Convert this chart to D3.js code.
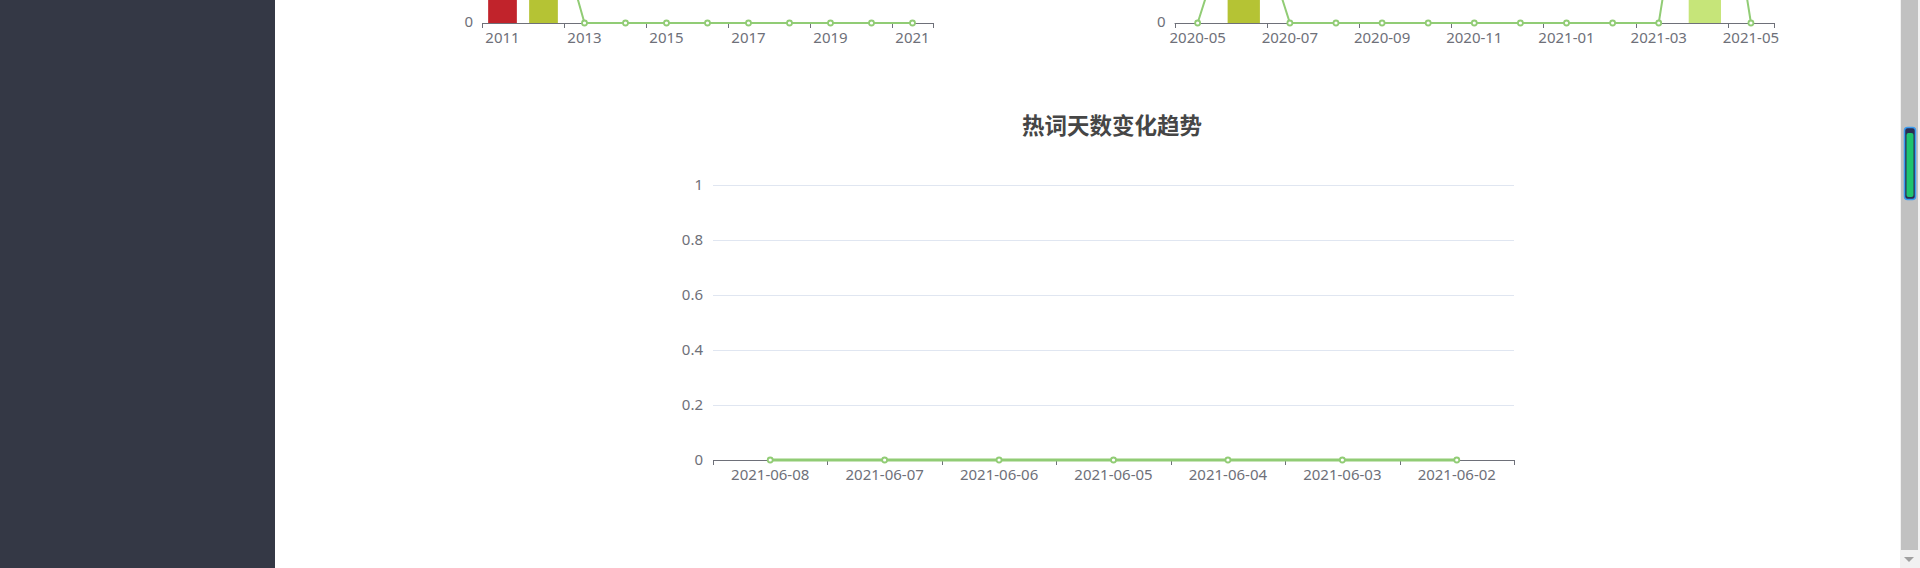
<!DOCTYPE html>
<html><head><meta charset="utf-8">
<script src="https://cdn.jsdelivr.net/npm/d3@7"></script>
<style>
html,body{margin:0;padding:0;overflow:hidden;background:#fff;width:1920px;height:568px}
svg{display:block}
text{font-family:"Noto Sans","Open Sans",sans-serif}
</style>
</head><body>
<svg id="c" width="1920" height="568"></svg>
<script>
// ---------- data ----------
const yearCategories = ['2011','2012','2013','2014','2015','2016','2017','2018','2019','2020','2021'];
const yearValues     = [1, 1, 0, 0, 0, 0, 0, 0, 0, 0, 0];
const monthCategories = ['2020-05','2020-06','2020-07','2020-08','2020-09','2020-10','2020-11','2020-12','2021-01','2021-02','2021-03','2021-04','2021-05'];
const monthValues     = [0, 1, 0, 0, 0, 0, 0, 0, 0, 0, 0, 2, 0];
const dayCategories = ['2021-06-08','2021-06-07','2021-06-06','2021-06-05','2021-06-04','2021-06-03','2021-06-02'];
const dayValues     = [0, 0, 0, 0, 0, 0, 0];
const dayTicks = [0, 0.2, 0.4, 0.6, 0.8, 1];
const mainTitle = '热词天数变化趋势';
const barPalette = ['#C1232B','#B5C334','#FCCE10','#E87C25','#27727B','#FE8463','#9BCA63','#FAD860','#F3A43B','#60C0DD','#D7504B','#C6E579','#F4E001'];
const lineColor = '#91cc75';
const axisColor = '#6E7079';
const gridColor = '#E0E6F1';
const labelSize = '15px';

const svg = d3.select('#c');

// page chrome: sidebar
svg.append('rect').attr('x',0).attr('y',0).attr('width',275).attr('height',568).attr('fill','#343845');

function barLineChart(cats, vals, x0, x1, zeroY, pxPerUnit, maxV) {
  const g = svg.append('g');
  const x = d3.scaleBand().domain(cats).range([x0, x1]).paddingInner(0).paddingOuter(0);
  const y = d3.scaleLinear().domain([0, maxV]).range([zeroY, zeroY - pxPerUnit*maxV]);
  const bw = x.bandwidth();
  g.selectAll('rect.bar').data(cats.map((c,i)=>({c, v:vals[i], i}))).join('rect')
    .attr('x', d => x(d.c) + bw*0.15).attr('width', bw*0.7)
    .attr('y', d => y(d.v)).attr('height', d => y(0) - y(d.v))
    .attr('fill', d => barPalette[d.i % barPalette.length]);
  const ax = g.append('g').attr('transform', `translate(0,${zeroY})`)
    .call(d3.axisBottom(x).tickValues(cats.filter((c,i)=>i%2===0)).tickSize(0).tickPadding(9));
  ax.select('.domain').attr('stroke', axisColor).attr('d', `M${x0},0.5H${x1}`);
  ax.selectAll('text').attr('fill', axisColor).style('font-size', labelSize);
  const tickPos = cats.filter((c,i)=>i%2===0).map(c => x(c)).concat([x1]);
  g.selectAll('line.tk').data(tickPos).join('line')
    .attr('x1', d=>Math.round(d)+0.5).attr('x2', d=>Math.round(d)+0.5)
    .attr('y1', zeroY).attr('y2', zeroY+5).attr('stroke', axisColor);
  g.append('text').attr('x', x0-9).attr('y', zeroY-1).attr('dy','0.35em').attr('text-anchor','end')
    .attr('fill', axisColor).style('font-size', labelSize).text(y.ticks(1)[0]);
  const line = d3.line().x((d,i)=>x(cats[i])+bw/2).y(d=>y(d));
  g.append('path').datum(vals).attr('d', line).attr('fill','none').attr('stroke', lineColor).attr('stroke-width', 2);
  g.selectAll('circle').data(vals).join('circle')
    .attr('cx', (d,i)=>x(cats[i])+bw/2).attr('cy', d=>y(d)).attr('r', 2.5)
    .attr('fill','#fff').attr('stroke', lineColor).attr('stroke-width', 1.8);
}

barLineChart(yearCategories, yearValues, 482, 933, 23, 145, 2);
barLineChart(monthCategories, monthValues, 1174.6, 1774, 23, 145, 2);

// ---------- main chart ----------
{
  const x0 = 713, x1 = 1514, yTop = 185, yBot = 460;
  const g = svg.append('g');
  const x = d3.scaleBand().domain(dayCategories).range([x0, x1]);
  const y = d3.scaleLinear().domain([0, 1]).range([yBot, yTop]);
  const bw = x.bandwidth();
  g.append('text').attr('x', 1112).attr('y', 126).attr('dy','0.35em').attr('text-anchor','middle')
    .attr('fill','#464646').style('font-size','22.5px').style('font-weight','bold')
    .style('font-family','"Noto Sans CJK SC",sans-serif').text(mainTitle);
  const ya = g.append('g').attr('transform', `translate(${x0},0)`)
    .call(d3.axisLeft(y).tickValues(dayTicks).tickSize(-(x1-x0)).tickPadding(10).tickFormat(d3.format('~g')));
  ya.select('.domain').remove();
  ya.selectAll('.tick line').attr('stroke', gridColor);
  ya.selectAll('text').attr('fill', axisColor).style('font-size', labelSize);
  const xa = g.append('g').attr('transform', `translate(0,${yBot})`)
    .call(d3.axisBottom(x).tickSize(0).tickPadding(9));
  xa.select('.domain').attr('stroke', axisColor).attr('d', `M${x0},0.5H${x1}`);
  xa.selectAll('text').attr('fill', axisColor).style('font-size', labelSize);
  const tickPos = dayCategories.map(c => x(c)).concat([x1]);
  g.selectAll('line.tk').data(tickPos).join('line')
    .attr('x1', d=>Math.round(d)+0.5).attr('x2', d=>Math.round(d)+0.5)
    .attr('y1', yBot).attr('y2', yBot+5).attr('stroke', axisColor);
  const line = d3.line().x((d,i)=>x(dayCategories[i])+bw/2).y(d=>y(d));
  g.append('path').datum(dayValues).attr('d', line).attr('fill','none').attr('stroke', lineColor).attr('stroke-width', 3);
  g.selectAll('circle').data(dayValues).join('circle')
    .attr('cx', (d,i)=>x(dayCategories[i])+bw/2).attr('cy', d=>y(d)).attr('r', 2.5)
    .attr('fill','#fff').attr('stroke', lineColor).attr('stroke-width', 1.8);
}

// ---------- scrollbar chrome ----------
svg.append('rect').attr('x',1900).attr('y',0).attr('width',20).attr('height',568).attr('fill','#f1f1f1');
svg.append('rect').attr('x',1901).attr('y',0).attr('width',17).attr('height',550).attr('fill','#c1c1c1');
svg.append('rect').attr('x',1904.5).attr('y',127.5).attr('width',11).attr('height',72).attr('rx',3)
  .attr('fill','#2a2d52').attr('stroke','#3b9cf0').attr('stroke-width',1.5);
svg.append('rect').attr('x',1906.5).attr('y',133).attr('width',7).attr('height',64).attr('rx',2).attr('fill','#1fc46e');
svg.append('path').attr('d','M1904,557 L1914,557 L1909,562 Z').attr('fill','#a0a0a0');
</script>
</body></html>
